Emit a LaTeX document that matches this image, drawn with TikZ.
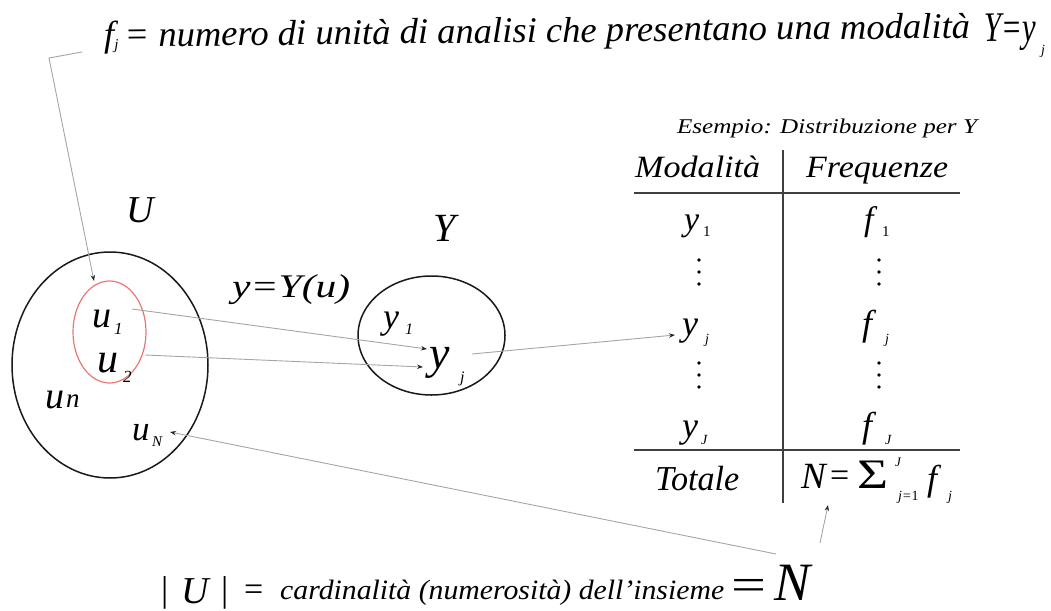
\documentclass[tikz,border=0pt]{standalone}
\usepackage{fontspec}
\usepackage{graphicx}
\setmainfont{Liberation Serif}
\usetikzlibrary{arrows.meta}
\newcommand{\fitw}[2]{\resizebox{#1}{\height}{#2}}
\newcommand{\fs}[1]{\fontsize{#1}{#1}\selectfont}
\definecolor{conngray}{RGB}{165,165,165}
\definecolor{setred}{RGB}{232,120,120}
\tikzset{
  lbl/.style={inner sep=0pt, font=\itshape},
  bw/.style={lbl, anchor=base west},
  conn/.style={draw=conngray, line width=0.9pt, -{Stealth[length=6pt,width=4.5pt,color=black!85]}},
  rule/.style={draw=black!75, line width=1.4pt},
  setline/.style={draw=black!90, line width=1.5pt},
  vdot/.style={fill=black, draw=none},
}
\begin{document}
\begin{tikzpicture}[x=1pt,y=-1pt]
\useasboundingbox (0,0) rectangle (1051,610);
% ---- top text (slightly tilted as in the reference)
\node[bw, rotate=0.6, font=\itshape\fs{36}] (top) at (104,47)
  {\fitw{866pt}{f\raisebox{-3pt}{\fs{15}j}\,= numero di unità di analisi che presentano una modalità}};
\node[bw, rotate=0.6, font=\itshape\fs{42}] (topY) at (984,42) {\fitw{52pt}{Y=y}};
\node[bw, font=\itshape\fs{14}] (topj) at (1041,55) {j};
\coordinate (c1) at (82,52);
\coordinate (c2) at (49,58);
% ---- set U
\draw[setline] (110,365) ellipse [x radius=98, y radius=113];
\draw[draw=setred, line width=1.2pt] (109.5,332) ellipse [x radius=36.5, y radius=51];
\coordinate (redtop) at (94,281);
\node[lbl, font=\itshape\fs{38}] (U) at (140,210) {U};
\node[bw, font=\itshape\fs{38}] (u1) at (92,327) {u};
\node[bw, font=\itshape\fs{17}] (u1s) at (114,334) {1};
\node[bw, font=\itshape\fs{42}] (u2) at (97,372) {u};
\node[bw, font=\itshape\fs{17}] (u2s) at (123,382) {2};
\node[bw, font=\itshape\fs{38}] (un) at (45,408) {u};
\node[bw, font=\itshape\fs{27}] (uns) at (66,407) {n};
\node[bw, font=\itshape\fs{35}] (uN) at (132,440) {u};
\node[bw, font=\itshape\fs{15}] (uNs) at (152,446) {N};
% ---- mapping label
\node[bw, font=\itshape\fs{33}] (map) at (232,297) {\fitw{118pt}{y=Y(u)}};
% ---- set Y
\draw[setline] (431.5,335.5) ellipse [x radius=73.5, y radius=59.5];
\node[lbl, font=\itshape\fs{40}] (Y) at (445,228) {Y};
\node[bw, font=\itshape\fs{36}] (y1) at (383,328) {y};
\node[bw, font=\itshape\fs{16}] (y1s) at (405,334) {1};
\node[bw, font=\itshape\fs{46}] (yj) at (429,368) {y};
\node[bw, font=\itshape\fs{16}] (yjs) at (460,382) {j};
% ---- table
\node[lbl, font=\itshape\fs{21}] (title) at (827,128) {\fitw{300pt}{Esempio: Distribuzione per Y}};
\draw[rule] (783,150) -- (783,503);
\draw[rule] (634,193) -- (960,193);
\draw[rule] (634,450) -- (960,450);
\node[bw, font=\itshape\fs{31}] (hm) at (635,177) {\fitw{125pt}{Modalità}};
\node[bw, font=\itshape\fs{31}] (hf) at (806,177) {\fitw{142pt}{Frequenze}};
% rows
\node[bw, font=\itshape\fs{34}] (ty1) at (684,230) {y};
\node[bw, font=\fs{15}] (ty1s) at (703,236) {1};
\node[bw, font=\itshape\fs{34}] (tf1) at (864,230) {f};
\node[bw, font=\fs{15}] (tf1s) at (882,236) {1};
\foreach \yy in {260,272,284,363,375,387}{
  \fill[vdot] (699,\yy) circle (1.9);
  \fill[vdot] (879,\yy) circle (1.9);
}
\node[bw, font=\itshape\fs{36}] (tyj) at (682,335) {y};
\node[bw, font=\itshape\fs{14}] (tyjs) at (705,343) {j};
\node[bw, font=\itshape\fs{36}] (tfj) at (862,335) {f};
\node[bw, font=\itshape\fs{14}] (tfjs) at (885,343) {j};
\node[bw, font=\itshape\fs{36}] (tyJ) at (682,437) {y};
\node[bw, font=\itshape\fs{14}] (tyJs) at (701,444) {J};
\node[bw, font=\itshape\fs{36}] (tfJ) at (862,437) {f};
\node[bw, font=\itshape\fs{14}] (tfJs) at (885,444) {J};
\node[bw, font=\itshape\fs{35}] (tot) at (655,490) {\fitw{84pt}{Totale}};
\node[bw, font=\itshape\fs{37}] (sN) at (801,488) {N};
\node[bw, font=\fs{34}] (seq) at (830,486) {=};
\node[bw, font=\fs{42}] (ssig) at (857,488) {\fitw{31pt}{Σ}};
\node[bw, font=\itshape\fs{13}] (ssup) at (895,466) {J};
\node[bw, font=\itshape\fs{14}] (ssub) at (898,500) {j={\upshape 1}};
\node[bw, font=\itshape\fs{36}] (sf) at (927,490) {f};
\node[bw, font=\itshape\fs{14}] (sfj) at (948,500) {j};
% ---- bottom text
\node[bw, font=\fs{36}] (bar1) at (161,601) {|};
\node[bw, font=\itshape\fs{38}] (bU) at (181,603) {U};
\node[bw, font=\fs{36}] (bar2) at (221,601) {|};
\node[bw, font=\fs{34}] (beq1) at (244,600) {=};
\node[bw, font=\itshape\fs{28}] (card) at (280,599) {\fitw{444pt}{cardinalità (numerosità) dell'insieme}};
\node[bw, font=\fs{46}] (beq2) at (731,600) {\fitw{35pt}{=}};
\node[bw, font=\itshape\fs{54}] (bN) at (774,600) {N};
% ---- connector end points
\coordinate (u1e) at (132,309);
\coordinate (u2e) at (145,355);
\coordinate (yjA) at (427,349);
\coordinate (yjB) at (423,367);
\coordinate (yje) at (472,354);
\coordinate (tyjw) at (675,335);
\coordinate (uNe) at (170,432);
\coordinate (bNa) at (776,554);
\coordinate (bNb) at (820,543);
\coordinate (sumb) at (828,505);
% ---- connectors
\draw[conn] (c1) -- (c2) -- (redtop);
\draw[conn] (u1e) -- (yjA);
\draw[conn] (u2e) -- (yjB);
\draw[conn] (yje) -- (tyjw);
\draw[conn] (bNa) -- (uNe);
\draw[conn] (bNb) -- (sumb);
\end{tikzpicture}
\end{document}
